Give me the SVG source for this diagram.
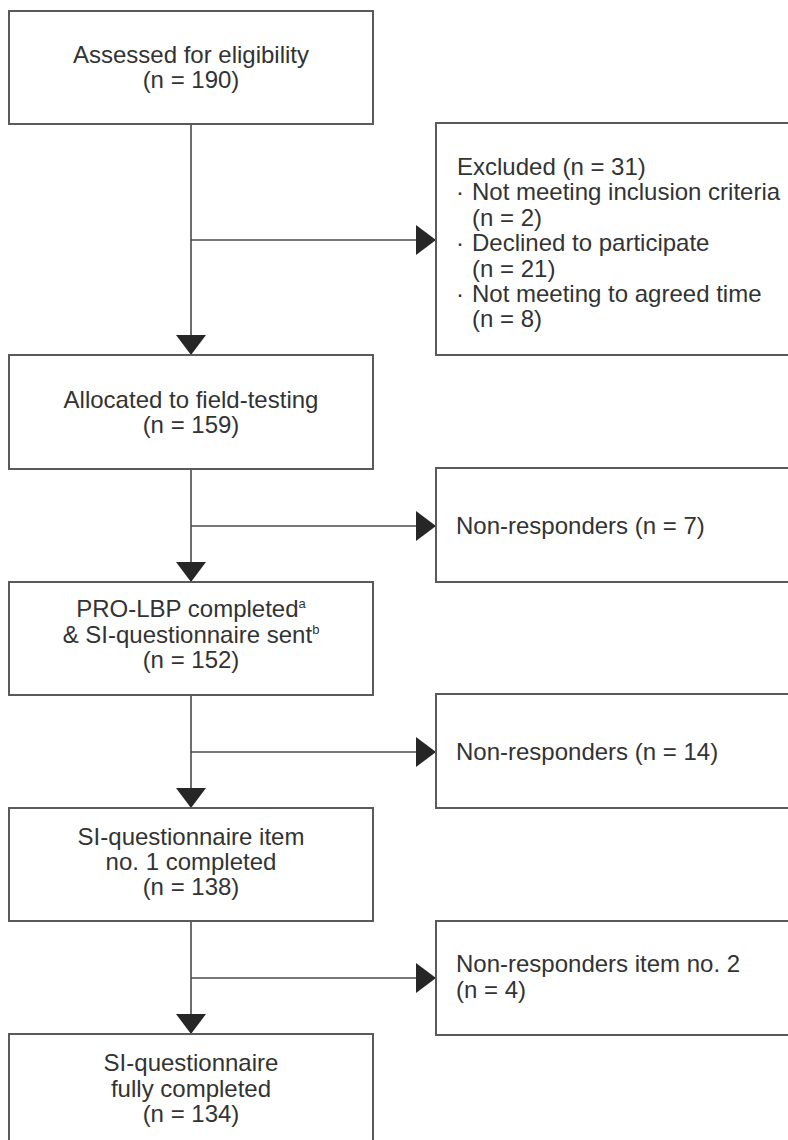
<svg xmlns="http://www.w3.org/2000/svg" width="788" height="1140" viewBox="0 0 788 1140">
  <style>
    .box { fill: #ffffff; stroke: #5a5a5a; stroke-width: 2; }
    .lbl { font-family: "Liberation Sans", Arial, sans-serif; font-size: 24px; fill: #333333; }
    .mid { text-anchor: middle; }
    .sup { font-size: 13px; }
    .edge { fill: none; stroke: #4a4a4a; stroke-width: 1.6; }
  </style>
  <defs>
    <marker id="arrow" viewBox="0 0 20 30" markerWidth="20" markerHeight="30" refX="20" refY="15" orient="auto" markerUnits="userSpaceOnUse">
      <path d="M0,0 L20,15 L0,30 Z" fill="#262626"/>
    </marker>
  </defs>
  <rect width="788" height="1140" fill="#ffffff"/>

  <!-- connectors -->
  <g id="connectors">
    <path class="edge" d="M191,124 V355" marker-end="url(#arrow)"/>
    <path class="edge" d="M191,240 H436" marker-end="url(#arrow)"/>
    <path class="edge" d="M191,469 V582" marker-end="url(#arrow)"/>
    <path class="edge" d="M191,526 H436" marker-end="url(#arrow)"/>
    <path class="edge" d="M191,695 V808" marker-end="url(#arrow)"/>
    <path class="edge" d="M191,752 H436" marker-end="url(#arrow)"/>
    <path class="edge" d="M191,921 V1034" marker-end="url(#arrow)"/>
    <path class="edge" d="M191,978 H436" marker-end="url(#arrow)"/>
  </g>

  <!-- main flow -->
  <g id="assessed">
    <rect class="box" x="9" y="11" width="364" height="113"/>
    <text class="lbl mid" x="191" y="63">Assessed for eligibility</text>
    <text class="lbl mid" x="191" y="88">(n = 190)</text>
  </g>

  <g id="excluded">
    <rect class="box" x="436" y="123" width="370" height="232"/>
    <text class="lbl" x="457" y="175">Excluded (n = 31)</text>
    <text class="lbl" x="456" y="200">·</text>
    <text class="lbl" x="472" y="200">Not meeting inclusion criteria</text>
    <text class="lbl" x="472" y="226">(n = 2)</text>
    <text class="lbl" x="456" y="251">·</text>
    <text class="lbl" x="472" y="251">Declined to participate</text>
    <text class="lbl" x="472" y="277">(n = 21)</text>
    <text class="lbl" x="456" y="302">·</text>
    <text class="lbl" x="472" y="302">Not meeting to agreed time</text>
    <text class="lbl" x="472" y="327">(n = 8)</text>
  </g>

  <g id="allocated">
    <rect class="box" x="9" y="355" width="364" height="114"/>
    <text class="lbl mid" x="191" y="408">Allocated to field-testing</text>
    <text class="lbl mid" x="191" y="433">(n = 159)</text>
  </g>

  <g id="nonresp1">
    <rect class="box" x="436" y="468" width="370" height="114"/>
    <text class="lbl" x="456" y="534">Non-responders (n = 7)</text>
  </g>

  <g id="prolbp">
    <rect class="box" x="9" y="582" width="364" height="113"/>
    <text class="lbl mid" x="191" y="617">PRO-LBP completed<tspan class="sup" dy="-9">a</tspan></text>
    <text class="lbl mid" x="191" y="643">&amp; SI-questionnaire sent<tspan class="sup" dy="-9">b</tspan></text>
    <text class="lbl mid" x="191" y="668">(n = 152)</text>
  </g>

  <g id="nonresp2">
    <rect class="box" x="436" y="694" width="370" height="114"/>
    <text class="lbl" x="456" y="760">Non-responders (n = 14)</text>
  </g>

  <g id="item1">
    <rect class="box" x="9" y="808" width="364" height="113"/>
    <text class="lbl mid" x="191" y="845">SI-questionnaire item</text>
    <text class="lbl mid" x="191" y="870">no. 1 completed</text>
    <text class="lbl mid" x="191" y="895">(n = 138)</text>
  </g>

  <g id="nonresp3">
    <rect class="box" x="436" y="921" width="370" height="114"/>
    <text class="lbl" x="456" y="972">Non-responders item no. 2</text>
    <text class="lbl" x="456" y="998">(n = 4)</text>
  </g>

  <g id="completed">
    <rect class="box" x="9" y="1034" width="364" height="120"/>
    <text class="lbl mid" x="191" y="1071">SI-questionnaire</text>
    <text class="lbl mid" x="191" y="1097">fully completed</text>
    <text class="lbl mid" x="191" y="1122">(n = 134)</text>
  </g>
</svg>
